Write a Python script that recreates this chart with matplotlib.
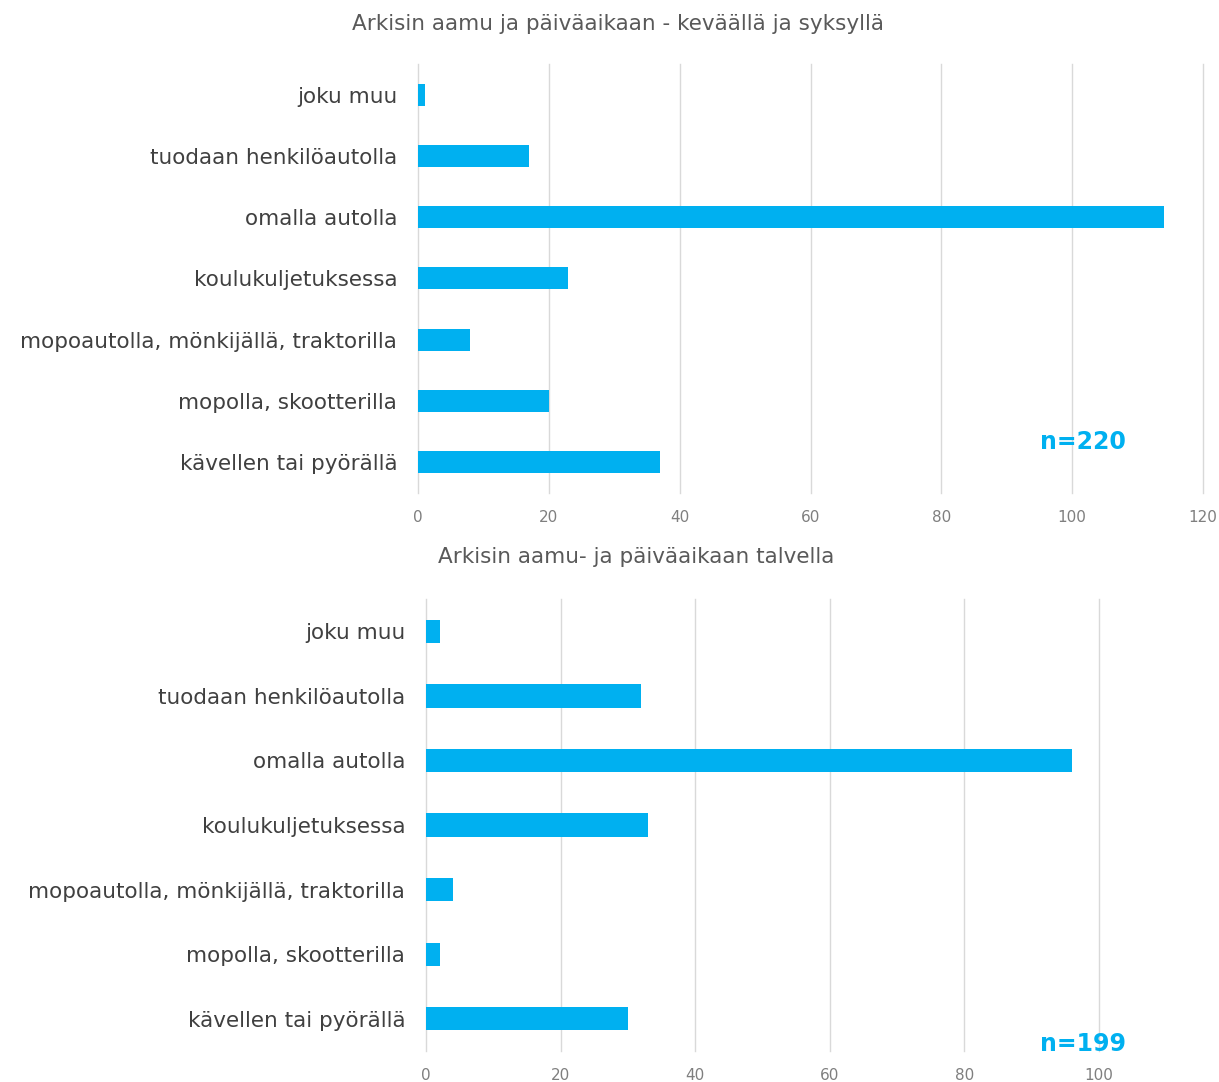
import matplotlib.pyplot as plt
import numpy as np

# data
categories = ['joku muu', 'tuodaan henkilöautolla', 'omalla autolla', 'koulukuljetuksessa',
              'mopoautolla, mönkijällä, traktorilla', 'mopolla, skootterilla', 'kävellen tai pyörällä']
spring_autumn = [1, 17, 114, 23, 8, 20, 37]
winter = [2, 32, 96, 33, 4, 2, 30]
title_top = 'Arkisin aamu ja päiväaikaan - keväällä ja syksyllä'
title_bottom = 'Arkisin aamu- ja päiväaikaan talvella'
n_top = 'n=220'
n_bottom = 'n=199'

bar_color = '#00B0F0'

fig = plt.figure(figsize=(12.19, 10.82), dpi=100)


def draw(ax, values, xmax, ticks):
    y = np.arange(len(categories))
    ax.barh(y, values, height=0.36, color=bar_color, zorder=3)
    ax.set_yticks(y)
    ax.set_yticklabels(categories, fontsize=15.5, color='#404040')
    ax.set_ylim(len(categories) - 0.5, -0.5)
    ax.set_xlim(0, xmax)
    ax.set_xticks(ticks)
    ax.set_xticklabels([str(t) for t in ticks], fontsize=11, color='#7f7f7f')
    ax.grid(axis='x', color='#d9d9d9', linewidth=1, zorder=0)
    for gl in ax.get_xgridlines():
        gl.set_clip_on(False)
    for s in ax.spines.values():
        s.set_visible(False)
    ax.tick_params(axis='y', length=0, pad=15)
    ax.tick_params(axis='x', length=0, pad=12)


ax1 = fig.add_axes([0.3429, 0.5444, 0.644, 0.3965])
draw(ax1, spring_autumn, 120, [0, 20, 40, 60, 80, 100, 120])

ax2 = fig.add_axes([0.3495, 0.02865, 0.5521, 0.4177])
draw(ax2, winter, 100, [0, 20, 40, 60, 80, 100])

fig.text(618 / 1219, 1 - 24 / 1082, title_top, ha='center', va='center',
         fontsize=15.5, color='#595959')
fig.text(636 / 1219, 1 - 557 / 1082, title_bottom, ha='center', va='center',
         fontsize=15.5, color='#595959')

fig.text(1083 / 1219, 1 - 442 / 1082, n_top, ha='center', va='center',
         fontsize=17, color=bar_color, fontweight='bold')
fig.text(1083 / 1219, 1 - 1044 / 1082, n_bottom, ha='center', va='center',
         fontsize=17, color=bar_color, fontweight='bold')

plt.savefig('out.png', dpi=100)
